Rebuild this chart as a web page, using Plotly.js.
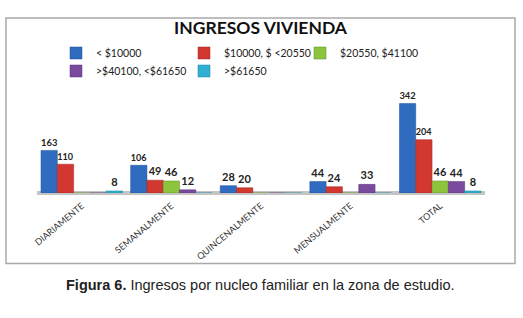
<!DOCTYPE html>
<html>
<head>
<meta charset="utf-8">
<script src="https://cdn.plot.ly/plotly-3.0.1.min.js"></script>
<style>html,body{margin:0;padding:0;background:#fff;}#chart{width:523px;height:318px;}</style>
</head>
<body>
<div id="chart"></div>
<script>
// ---- data ----
const categories = ['DIARIAMENTE', 'SEMANALMENTE', 'QUINCENALMENTE', 'MENSUALMENTE', 'TOTAL'];
const seriesNames = ['< $10000', '$10000, $ <20550', '$20550, $41100', '>$40100, <$61650', '>$61650'];
const lt10000      = [163, 106, 28, 44, 342];
const r10000_20550 = [110, 49, 20, 24, 204];
const r20550_41100 = [0, 46, 0, 0, 46];
const r40100_61650 = [0, 12, 0, 33, 44];
const gt61650      = [8, 0, 0, 0, 8];
const chartTitle = 'INGRESOS VIVIENDA';
const captionBold = 'Figura 6.';
const captionText = ' Ingresos por nucleo familiar en la zona de estudio.';

// ---- styling ----
const seriesValues = [lt10000, r10000_20550, r20550_41100, r40100_61650, gt61650];
const colors = ['#2f6cc0', '#d2382f', '#8cc43c', '#7a4a9e', '#2fb0d2'];
const lineColors = ['#1d4f96', '#9e2620', '#5f8f22', '#553274', '#1c84a2'];
const W = 523, H = 318;
const M = {l: 37, r: 38, t: 80, b: 125};
const PW = W - M.l - M.r, PH = H - M.t - M.b;
const px2x = p => (p - M.l) / PW;
const py2y = p => (H - M.b - p) / PH;
// legend text start positions (pixel) per series; legend box starts 40px left of text
const legendPos = [[96, 53], [224, 53], [340, 53], [96, 71], [224, 71]];
const legendFont = {family: 'Lato, sans-serif', size: 10.5, color: '#222'};

const traces = seriesValues.map((vals, i) => ({
  type: 'bar',
  name: seriesNames[i],
  x: categories,
  y: vals,
  text: vals.map(v => v ? String(v) : ''),
  textposition: 'outside',
  textfont: {family: 'Lato, sans-serif', size: 11, color: '#222', weight: 'bold'},
  cliponaxis: false,
  marker: {color: colors[i], line: {color: lineColors[i], width: 0.5}},
  legend: i === 0 ? 'legend' : 'legend' + (i + 1),
  hoverinfo: 'x+y+name'
}));

const layout = {
  width: W, height: H,
  margin: M,
  showlegend: true,
  paper_bgcolor: '#fff', plot_bgcolor: 'rgba(0,0,0,0)',
  barmode: 'group', bargap: 0.09, bargroupgap: 0,
  title: {
    text: chartTitle,
    font: {family: 'Lato, sans-serif', size: 17.5, color: '#111', weight: 'bold'},
    x: 260.5 / W, xanchor: 'center', xref: 'container',
    y: 1 - 28 / H, yanchor: 'middle', yref: 'container'
  },
  xaxis: {
    tickangle: -40,
    tickfont: {family: 'Lato, sans-serif', size: 9, color: '#333'},
    showline: false, showgrid: false, ticks: '', ticklabelstandoff: 5,
    zeroline: false, fixedrange: true
  },
  yaxis: {
    range: [0, PH / (94 / 342)],
    visible: true, showticklabels: false, showgrid: false, showline: false, ticks: '',
    zeroline: true, zerolinecolor: '#c4c4c4', zerolinewidth: 4, fixedrange: true
  },
  shapes: [{
    type: 'rect', xref: 'paper', yref: 'paper', layer: 'below',
    x0: px2x(6), x1: px2x(515), y0: py2y(267), y1: py2y(9),
    line: {color: '#a9a9a9', width: 1.5}, fillcolor: 'rgba(0,0,0,0)'
  }],
  annotations: [{
    xref: 'paper', yref: 'paper', x: px2x(260), y: py2y(290),
    xanchor: 'center', yanchor: 'middle', showarrow: false,
    text: '<b>' + captionBold + '</b>' + captionText,
    font: {family: 'Liberation Sans, Arial, sans-serif', size: 14.5, color: '#222'}
  }]
};
legendPos.forEach((p, i) => {
  layout[i === 0 ? 'legend' : 'legend' + (i + 1)] = {
    orientation: 'h', xref: 'container', yref: 'container',
    x: (p[0] - 40) / W, y: 1 - p[1] / H, xanchor: 'left', yanchor: 'middle',
    itemwidth: 30, font: legendFont, bgcolor: 'rgba(0,0,0,0)', borderwidth: 0
  };
});

Plotly.newPlot('chart', traces, layout, {displayModeBar: false, staticPlot: true});
</script>
</body>
</html>
